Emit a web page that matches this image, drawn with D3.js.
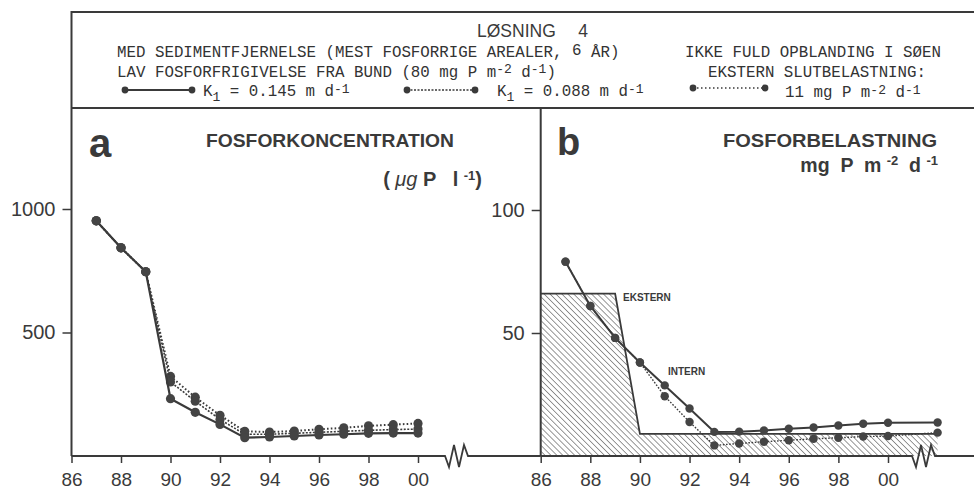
<!DOCTYPE html>
<meta charset="utf-8">
<title>Losning 4</title>
<style>
body { margin: 0; background: #fff; }
svg { display: block; }
.mono { font-family: "Liberation Mono", "DejaVu Sans Mono", monospace; font-size: 15.8px; fill: #333; }
.sans { font-family: "Liberation Sans", Arial, sans-serif; fill: #3a3a3a; }
</style>
<script src="https://d3js.org/d3.v7.min.js"></script>
<div id="chart"></div>
<script>

// ---- data ----
// panel a: fosforkoncentration (ug P / l)
var yearsA = [87, 88, 89, 90, 91, 92, 93, 94, 95, 96, 97, 98, 99, 100];
var solidA = [952, 843, 746, 232, 177, 128, 74, 77, 81, 85, 88, 92, 93, 93];     // K1 = 0.145
var dashA  = [952, 843, 746, 300, 222, 148, 88, 88, 92, 96, 100, 104, 107, 109]; // K1 = 0.088
var dotA   = [952, 843, 746, 322, 238, 165, 100, 97, 101, 108, 114, 122, 127, 132]; // ekstern 11

// panel b: fosforbelastning (mg P m-2 d-1), last point is after the axis break
var yearsB    = [87, 88, 89, 90, 91, 92, 93, 94, 95, 96, 97, 98, 99, 100, 102];
var internB   = [79, 61, 48, 38, 28.7, 19.3, 9.8, 9.9, 10.4, 11.1, 11.6, 12.4, 13.1, 13.5, 13.6];
var internLoB = [79, 61, 48, 38, 24.3, 13.8, 4.3, 5.1, 5.8, 6.4, 7.0, 7.4, 7.9, 8.1, 9.5];

// ekstern belastning (hatched area)
var eksternYears = [86, 89, 90, 102];
var eksternVals  = [66, 66, 9, 9];

var xTicks = [86, 88, 90, 92, 94, 96, 98, 100];
var yTicksA = [500, 1000];
var yTicksB = [50, 100];

var ink = "#3a3a3a";

var svg = d3.select("#chart").append("svg")
  .attr("width", 974)
  .attr("height", 491);

// hatch pattern
var defs = svg.append("defs");
defs.append("pattern")
  .attr("id", "hatch")
  .attr("patternUnits", "userSpaceOnUse")
  .attr("width", 4.2).attr("height", 4.2)
  .attr("patternTransform", "rotate(-45)")
  .append("line")
    .attr("x1", 0).attr("y1", 0).attr("x2", 0).attr("y2", 4.2)
    .attr("stroke", "#444").attr("stroke-width", 1.1);

// scales
var xa = d3.scaleLinear().domain([86, 100]).range([71.5, 418]);
var ya = d3.scaleLinear().domain([0, 1000]).range([456, 209]);
var xb = d3.scaleLinear().domain([86, 100]).range([540.7, 888]);
var yb = d3.scaleLinear().domain([0, 100]).range([456, 210]);

// ---- frame ----
svg.append("path")
  .attr("d", "M71.5,456V12H974M71.5,108H974M540.7,108V456")
  .attr("fill", "none").attr("stroke", ink).attr("stroke-width", 2);

// ---- header ----
var hdr = svg.append("g");
hdr.append("text").attr("class", "sans").attr("x", 477).attr("y", 37)
  .style("font-size", "17.5px").text("LØSNING");
hdr.append("text").attr("class", "sans").attr("x", 588).attr("y", 37)
  .attr("text-anchor", "end").style("font-size", "17.5px").text("4");

var l1 = hdr.append("text").attr("class", "mono").attr("x", 117).attr("y", 57)
  .attr("xml:space", "preserve");
l1.append("tspan").text("MED SEDIMENTFJERNELSE (MEST FOSFORRIGE AREALER, ");
l1.append("tspan").attr("dy", -2).text("6");
l1.append("tspan").attr("dy", 2).text(" ÅR)");

function supText(sel, parts) {
  // parts: [text, shift, small]
  parts.forEach(function(p) {
    var t = sel.append("tspan").attr("dy", p[1]).text(p[0]);
    if (p[2]) t.style("font-size", "13px");
  });
}

var l2 = hdr.append("text").attr("class", "mono").attr("x", 117).attr("y", 77)
  .attr("xml:space", "preserve");
supText(l2, [["LAV FOSFORFRIGIVELSE FRA BUND (80 mg P m", 0], ["-2", -4, 1], [" d", 4], ["-1", -4, 1], [")", 4]]);

hdr.append("text").attr("class", "mono").attr("x", 685).attr("y", 57).text("IKKE FULD OPBLANDING I SØEN");
hdr.append("text").attr("class", "mono").attr("x", 708).attr("y", 77).text("EKSTERN SLUTBELASTNING:");

// legend
var legend = [
  {x0: 125, x1: 192, y: 90, dash: null, tx: 203, ty: 96, k: "0.145"},
  {x0: 407, x1: 475, y: 90, dash: "2,1.5", tx: 497, ty: 96, k: "0.088"},
  {x0: 693, x1: 765, y: 88, dash: "1.5,2.5", tx: 785, ty: 97, k: null}
];
legend.forEach(function(d) {
  hdr.append("line").attr("x1", d.x0).attr("x2", d.x1).attr("y1", d.y).attr("y2", d.y)
    .attr("stroke", ink).attr("stroke-width", d.dash ? 1.4 : 2.2)
    .attr("stroke-dasharray", d.dash);
  [d.x0, d.x1].forEach(function(x) {
    hdr.append("circle").attr("cx", x).attr("cy", d.y).attr("r", 3.4).attr("fill", ink);
  });
  var t = hdr.append("text").attr("class", "mono").attr("x", d.tx).attr("y", d.ty)
    .attr("xml:space", "preserve");
  if (d.k) {
    supText(t, [["K", 0], ["1", 5, 1], [" = " + d.k + " m d", -5], ["-1", -3, 1]]);
  } else {
    supText(t, [["11 mg P m", 0], ["-2", -3, 1], [" d", 3], ["-1", -3, 1]]);
  }
});

// ---- axes ----
function fmtYear(d) { return d3.format("02d")(d % 100); }

function xAxis(g, x, y0) {
  g.attr("transform", "translate(0," + y0 + ")")
    .call(d3.axisBottom(x).tickValues(xTicks).tickFormat(fmtYear).tickSize(7).tickPadding(0))
    .call(function(s) { s.select(".domain").remove(); })
    .call(function(s) {
      s.selectAll("line").attr("stroke", ink).attr("stroke-width", 1.5);
      s.selectAll("text").attr("dy", null).attr("y", 30)
        .attr("class", "sans").style("font-size", "19px").attr("fill", ink);
    });
}

function yAxis(g, y, x0, ticks) {
  g.attr("transform", "translate(" + x0 + ",0)")
    .call(d3.axisLeft(y).tickValues(ticks).tickFormat(d3.format("d")).tickSize(9).tickPadding(7))
    .call(function(s) { s.select(".domain").remove(); })
    .call(function(s) {
      s.selectAll("line").attr("stroke", ink).attr("stroke-width", 1.5);
      s.selectAll("text").attr("class", "sans").style("font-size", "20px").attr("fill", ink);
    });
}

xAxis(svg.append("g"), xa, 456);
xAxis(svg.append("g"), xb, 456);
yAxis(svg.append("g"), ya, 71.5, yTicksA);
yAxis(svg.append("g"), yb, 540.7, yTicksB);

// axis baseline with break marks
function brokenAxis(xs, xe, bx) {
  var y = 456;
  return "M" + xs + "," + y + "H" + bx +
    "L" + (bx + 4) + "," + (y + 11) +
    "L" + (bx + 9) + "," + (y - 11) +
    "L" + (bx + 14) + "," + (y + 11) +
    "L" + (bx + 19) + "," + (y - 11) +
    "L" + (bx + 23) + "," + y + "H" + xe;
}

// ---- panel b: ekstern hatched area ----
var ekstern = eksternYears.map(function(d, i) { return [xb(d), yb(eksternVals[i])]; });
var areaPts = ekstern.concat([[xb(102), yb(0)], [xb(86), yb(0)]]);
svg.append("path")
  .attr("d", "M" + areaPts.join("L") + "Z")
  .attr("fill", "url(#hatch)");
svg.append("path")
  .attr("d", d3.line()(ekstern))
  .attr("fill", "none").attr("stroke", ink).attr("stroke-width", 1.8);

svg.append("path").attr("d", brokenAxis(71.5, 540.7, 445))
  .attr("fill", "none").attr("stroke", ink).attr("stroke-width", 1.8);
svg.append("path").attr("d", brokenAxis(540.7, 974, 912))
  .attr("fill", "none").attr("stroke", ink).attr("stroke-width", 1.8);

// ---- series ----
function series(years, vals, x, y, dash, width, r) {
  var g = svg.append("g");
  var pts = years.map(function(d, i) { return [x(d), y(vals[i])]; });
  g.append("path")
    .attr("d", d3.line()(pts))
    .attr("fill", "none").attr("stroke", ink)
    .attr("stroke-width", width)
    .attr("stroke-dasharray", dash);
  g.selectAll("circle").data(pts).enter().append("circle")
    .attr("cx", function(d) { return d[0]; })
    .attr("cy", function(d) { return d[1]; })
    .attr("r", r).attr("fill", "#444");
}

series(yearsA, dotA, xa, ya, "1.6,2.2", 2, 4.6);
series(yearsA, dashA, xa, ya, "2,1.5", 1.6, 4.6);
series(yearsA, solidA, xa, ya, null, 2.2, 4.6);

series(yearsB, internLoB, xb, yb, "1.6,1.6", 1.4, 4.2);
series(yearsB, internB, xb, yb, null, 2, 4.2);

// ---- panel labels ----
svg.append("text").attr("class", "sans").attr("x", 89).attr("y", 157)
  .style("font-size", "40px").style("font-weight", "bold").text("a");
svg.append("text").attr("class", "sans").attr("x", 557).attr("y", 155)
  .style("font-size", "38px").style("font-weight", "bold").text("b");

svg.append("text").attr("class", "sans").attr("x", 206).attr("y", 147)
  .attr("textLength", 248).attr("lengthAdjust", "spacingAndGlyphs")
  .style("font-size", "18px").style("font-weight", "bold").attr("fill", "#444").text("FOSFORKONCENTRATION");
svg.append("text").attr("class", "sans").attr("x", 723).attr("y", 147)
  .attr("textLength", 214).attr("lengthAdjust", "spacingAndGlyphs")
  .style("font-size", "18px").style("font-weight", "bold").attr("fill", "#444").text("FOSFORBELASTNING");

var u1 = svg.append("text").attr("class", "sans").attr("x", 482).attr("y", 186)
  .attr("text-anchor", "end").attr("xml:space", "preserve")
  .style("font-size", "20px").style("font-weight", "bold");
u1.append("tspan").text("( ");
u1.append("tspan").style("font-style", "italic").style("font-weight", "normal").text("μg");
u1.append("tspan").text(" P   l ");
u1.append("tspan").attr("dy", -6).style("font-size", "13px").text("-1");
u1.append("tspan").attr("dy", 6).text(")");

var u2 = svg.append("text").attr("class", "sans").attr("x", 938).attr("y", 172)
  .attr("text-anchor", "end").attr("xml:space", "preserve")
  .style("font-size", "19.5px").style("font-weight", "bold");
u2.append("tspan").text("mg  P  m ");
u2.append("tspan").attr("dy", -7).style("font-size", "13px").text("-2");
u2.append("tspan").attr("dy", 7).text("  d ");
u2.append("tspan").attr("dy", -7).style("font-size", "13px").text("-1");

svg.append("text").attr("class", "sans").attr("x", 623).attr("y", 301)
  .style("font-size", "10px").style("font-weight", "bold").text("EKSTERN");
svg.append("text").attr("class", "sans").attr("x", 668).attr("y", 375)
  .style("font-size", "10px").style("font-weight", "bold").text("INTERN");

</script>
